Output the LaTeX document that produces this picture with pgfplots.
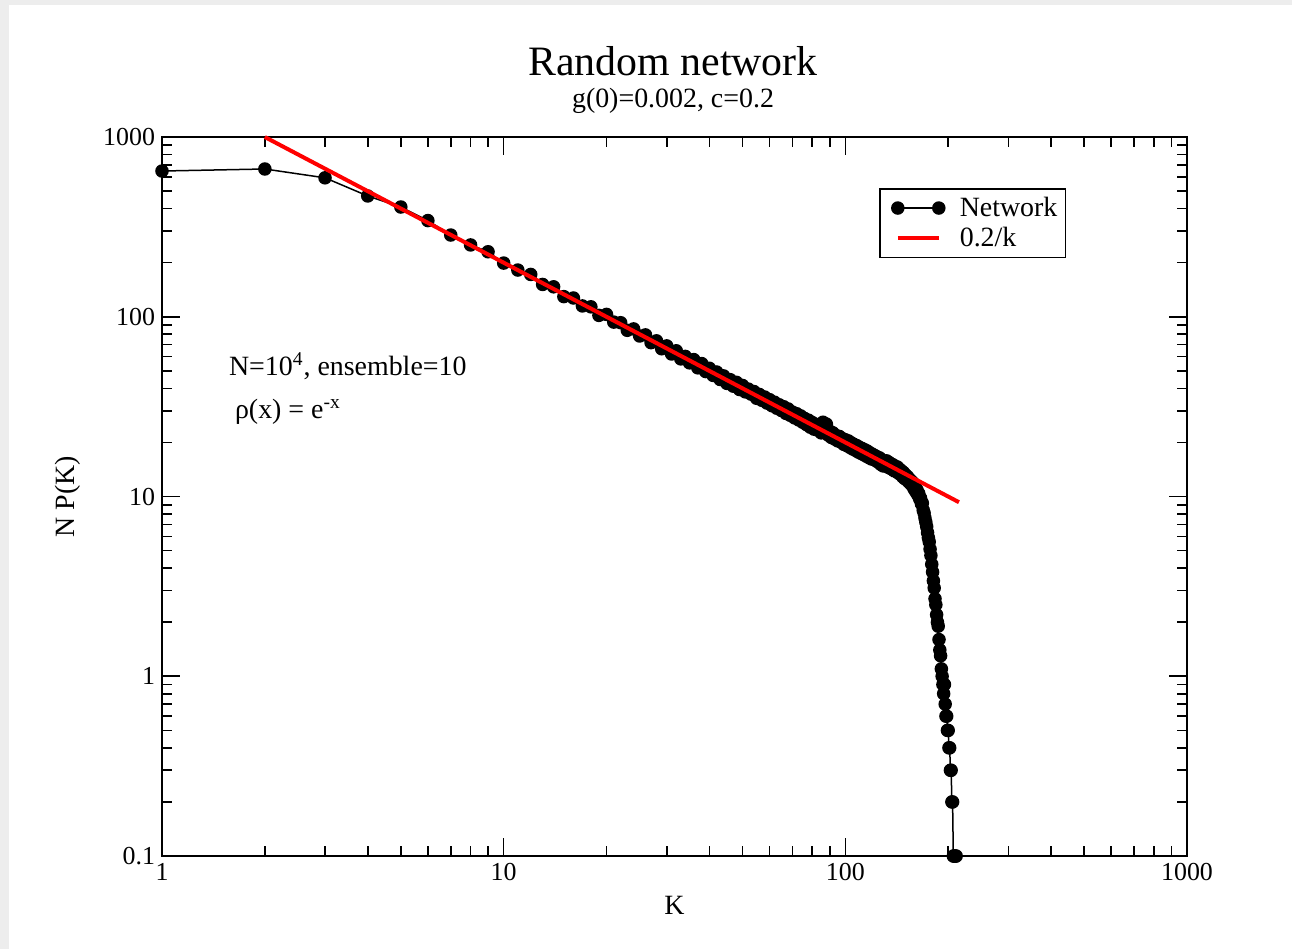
\documentclass[border=0pt]{standalone}
\usepackage{fontspec}
\setmainfont{Liberation Serif}
\usepackage{pgfplots}
\pgfplotsset{compat=1.18}
\pgfplotsset{
  netlegend/.style={legend image code/.code={\path (0bp,0bp) (34bp,0bp); \draw[##1] plot coordinates {(6bp,0bp) (26.5bp,0bp)};}},
  linelegend/.style={legend image code/.code={\path (0bp,0bp) (34bp,0bp); \draw[##1] (6bp,0bp) -- (26.5bp,0bp);}},
}
\begin{document}
\begin{tikzpicture}
\begin{scope}[x=0.5bp,y=-0.5bp]
\fill[gray!14] (0,0) rectangle (1292,949);
\fill[white] (9,5) rectangle (1292,949);
\node[font=\fontsize{21}{25}\selectfont] at (673,61) {Random network};
\node[font=\fontsize{14}{17}\selectfont] at (673,101) {g(0)=0.002, c=0.2};
\node[font=\fontsize{14}{17}\selectfont, anchor=west] at (222,366) {N=10\textsuperscript{4}, ensemble=10};
\node[font=\fontsize{14}{17}\selectfont, anchor=west] at (228,412) {ρ(x) = e\textsuperscript{-x}};
\end{scope}
\begin{axis}[at={(81bp,-428bp)}, anchor=south west, scale only axis,
  width=512.5bp, height=359.5bp,
  xmode=log, ymode=log, xmin=1, xmax=1000, ymin=0.1, ymax=1000,
  clip=false, clip mode=individual,
  axis line style={line width=1bp},
  every tick/.style={black, line width=0.8bp},
  major tick length=9bp, minor tick length=5bp,
  xtick={1,10,100,1000}, xticklabels={1,10,100,1000},
  ytick={0.1,1,10,100,1000}, yticklabels={0.1,1,10,100,1000},
  tick label style={font=\fontsize{13}{15}\selectfont},
  xlabel={K}, ylabel={N P(K)},
  label style={font=\fontsize{14}{16}\selectfont},
  xlabel style={at={(axis description cs:0.5,-0.068)}, anchor=center},
  ylabel style={at={(axis description cs:-0.092,0.5)}, anchor=center},
  legend style={at={(rel axis cs:0.6995,0.929)}, anchor=north west,
    draw=black, line width=0.8bp, font=\fontsize{14}{16}\selectfont,
    inner sep=2bp, row sep=0bp, cells={anchor=west}},
  legend cell align=left,
]
\addplot[black, line width=0.75bp, mark=*, mark size=3bp, netlegend]
  table {
k v
1 647
2 664
3 593
4 470
5 408
6 343
7 285
8 251
9 230
10 199
11 182
12 172.0
13 151.3
14 146.8
15 129.5
16 127.2
17 114.9
18 113.6
19 101.8
20 103.1
21 93.4
22 92.7
23 84.1
24 85.6
25 78.2
26 79.3
27 71.8
28 73.5
29 66.4
30 68.9
31 62.1
32 64.7
33 58.3
34 60.2
35 55.4
36 57.8
37 52.0
38 54.9
39 49.6
40 51.7
41 47.2
42 49.3
43 44.8
44 46.9
45 42.6
46 44.7
47 41.1
48 43.2
49 39.4
50 41.5
51 38.2
52 39.6
53 37.1
54 38.4
55 35.2
56 37.0
57 34.3
58 35.8
59 33.1
60 34.6
61 32.0
62 33.5
63 31.0
64 32.4
65 30.1
66 31.6
67 29.0
68 30.7
69 28.3
70 29.5
71 27.4
72 28.9
73 26.7
74 28.1
75 25.9
76 27.2
77 25.1
78 26.6
79 24.3
80 25.8
81 23.7
82 25.2
83 23.4
84 24.8
85 22.6
86 25.9
87 23.8
88 25.3
89 22.0
90 23.1
91 21.3
92 22.6
93 20.9
94 21.8
95 20.4
96 21.6
97 20.1
98 21.0
99 19.5
100 20.7
101 19.2
102 20.4
103 18.8
104 19.9
105 18.4
106 19.5
107 18.1
108 19.2
109 17.7
110 18.8
111 17.4
112 18.5
113 17.1
114 18.2
115 16.8
116 17.9
117 16.5
118 17.5
119 16.2
120 17.2
121 16.1
122 16.9
123 15.8
124 16.6
125 15.5
126 16.4
127 15.1
128 15.9
129 14.8
130 15.7
131 14.9
132 15.8
133 14.6
134 15.5
135 14.4
136 15.2
137 14.2
138 15.0
139 13.9
140 14.7
141 13.8
142 14.6
143 13.5
144 14.2
145 13.3
146 13.9
147 12.9
148 13.6
149 12.6
150 13.2
151 12.4
152 12.9
153 12.1
154 12.5
155 11.8
156 12.2
157 11.5
158 11.9
159 11.0
160 11.3
161 10.6
162 10.9
163 10.2
164 10.4
165 9.7
166 9.8
167 9.1
168 9.2
169 8.4
170 8.1
171 7.6
172 7.2
173 6.8
174 6.3
175 5.9
176 5.6
177 5.1
178 4.7
179 4.2
180 3.8
181 3.4
182 3.1
183 2.7
184 2.5
185 2.2
186 2.0
187 1.9
188 1.6
189 1.4
190 1.3
191 1.1
192 1.0
193 0.9
194 0.8
195 0.9
196 0.7
197 0.6
198 0.6
199 0.5
200 0.5
201 0.4
202 0.4
203 0.3
204 0.3
205 0.2
206 0.2
207 0.1
208 0.1
209 0.1
210 0.1
211 0.1
};
\addlegendentry{Network}
\addplot[red, line width=2bp, mark=none, linelegend]
  coordinates {(2,1000) (215,9.3)};
\addlegendentry{0.2/k}
\end{axis}
\end{tikzpicture}
\end{document}
